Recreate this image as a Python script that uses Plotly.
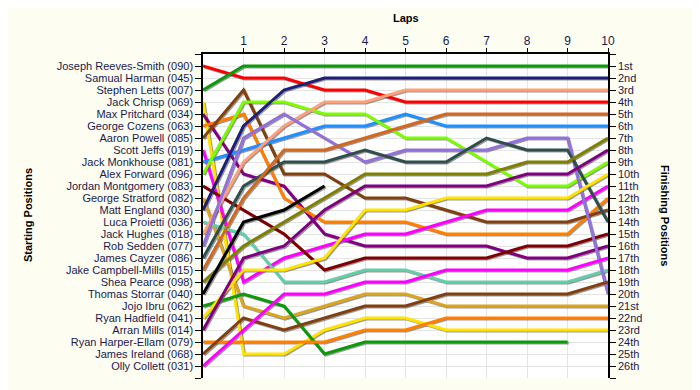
import plotly.graph_objects as go

laps = list(range(0, 11))

drivers = [
    "Joseph Reeves-Smith (090)", "Samual Harman (045)", "Stephen Letts (007)",
    "Jack Chrisp (069)", "Max Pritchard (034)", "George Cozens (063)",
    "Aaron Powell (085)", "Scott Jeffs (019)", "Jack Monkhouse (081)",
    "Alex Forward (096)", "Jordan Montgomery (083)", "George Stratford (082)",
    "Matt England (030)", "Luca Proietti (036)", "Jack Hughes (018)",
    "Rob Sedden (077)", "James Cayzer (086)", "Jake Campbell-Mills (015)",
    "Shea Pearce (098)", "Thomas Storrar (040)", "Jojo Ibru (062)",
    "Ryan Hadfield (041)", "Arran Mills (014)", "Ryan Harper-Ellam (079)",
    "James Ireland (068)", "Olly Collett (031)",
]

# position of each driver at the end of each lap (lap 0 = grid)
joseph_reeves_smith = [1, 2, 2, 3, 3, 4, 4, 4, 4, 4, 4]
samual_harman = [None] * 11
stephen_letts = [3, 1, 1, 1, 1, 1, 1, 1, 1, 1, 1]
jack_chrisp = [4, 25, 25, 23, 22, 22, 23, 23, 23, 23, 23]
max_pritchard = [5, 10, 11, 15, 16, 16, 16, 16, 17, 17, 16]
george_cozens = [6, 5, 12, 14, 14, 14, 15, 15, 15, 15, 12]
aaron_powell = [7, 3, 10, 10, 12, 12, 13, 14, 14, 14, 13]
scott_jeffs = [8, 19, 17, 16, 15, 15, 14, 13, 13, 13, 11]
jack_monkhouse = [9, 8, 7, 6, 6, 5, 6, 6, 6, 6, 6]
alex_forward = [10, 4, 4, 5, 5, 7, 7, 9, 11, 11, 9]
jordan_montgomery = [11, 13, 15, 18, 17, 17, 17, 17, 16, 16, 15]
george_stratford = [12, 21, 22, 21, 20, 20, 21, 21, 21, 21, 21]
matt_england = [13, 6, 3, 2, 2, 2, 2, 2, 2, 2, 2]
luca_proietti = [14, 15, 19, 19, 18, 18, 19, 19, 19, 19, 18]
jack_hughes = [15, 9, 6, 4, 4, 3, 3, 3, 3, 3, 3]
rob_sedden = [16, 7, 5, 7, 9, 8, 8, 8, 7, 7, 20]
james_cayzer = [17, 11, 9, 9, 8, 9, 9, 7, 8, 8, 14]
jake_campbell_mills = [18, 12, 8, 8, 7, 6, 5, 5, 5, 5, 5]
shea_pearce = [19, 16, 14, 12, 10, 10, 10, 10, 9, 9, 7]
thomas_storrar = [20, 14, 13, 11, None, None, None, None, None, None, None]
jojo_ibru = [21, 20, 21, 25, 24, 24, 24, 24, 24, 24, None]
ryan_hadfield = [22, 18, 18, 17, 13, 13, 12, 12, 12, 12, 10]
arran_mills = [23, 17, 16, 13, 11, 11, 11, 11, 10, 10, 8]
ryan_harper_ellam = [24, 24, 24, 24, 23, 23, 22, 22, 22, 22, 22]
james_ireland = [25, 22, 23, 22, 21, 21, 20, 20, 20, 20, 19]
olly_collett = [26, 23, 20, 20, 19, 19, 18, 18, 18, 18, 17]

positions = [
    joseph_reeves_smith, samual_harman, stephen_letts, jack_chrisp,
    max_pritchard, george_cozens, aaron_powell, scott_jeffs, jack_monkhouse,
    alex_forward, jordan_montgomery, george_stratford, matt_england,
    luca_proietti, jack_hughes, rob_sedden, james_cayzer, jake_campbell_mills,
    shea_pearce, thomas_storrar, jojo_ibru, ryan_hadfield, arran_mills,
    ryan_harper_ellam, james_ireland, olly_collett,
]

finish_labels = ["1st", "2nd", "3rd", "4th", "5th", "6th", "7th", "8th", "9th",
                 "10th", "11th", "12th", "13th", "14th", "15th", "16th", "17th",
                 "18th", "19th", "20th", "21st", "22nd", "23rd", "24th", "25th",
                 "26th"]

palette = ["#FF0000", "#000000", "#0A9A0A", "#FFE400", "#800080", "#FF8000",
           "#804010", "#FF00FF", "#1E90FF", "#7CFC00", "#800000", "#DAA520",
           "#1F1F78", "#66CDAA", "#FFA07A", "#9370DB", "#2F4F4F", "#D2691E",
           "#808000", "#000000", "#0A9A0A", "#FFE400", "#800080", "#FF8000",
           "#804010", "#FF00FF"]

TEXT = "#1a1a4a"
FONT = "Liberation Sans"

fig = go.Figure()

# shadows
for name, pos in zip(drivers, positions):
    if all(p is None for p in pos):
        continue
    fig.add_trace(go.Scatter(
        x=[l + 0.03 for l in laps],
        y=[None if p is None else p + 0.09 for p in pos],
        mode="lines", line=dict(color="rgba(70,70,70,0.55)", width=3),
        hoverinfo="skip", showlegend=False))

for name, pos, col in zip(drivers, positions, palette):
    fig.add_trace(go.Scatter(
        x=laps, y=pos, mode="lines", name=name,
        line=dict(color=col, width=3), showlegend=False))

# invisible trace for right axis
fig.add_trace(go.Scatter(x=[0], y=[1], yaxis="y2", mode="markers",
                         marker=dict(opacity=0), hoverinfo="skip",
                         showlegend=False))

ytick_vals = list(range(0, 28))
left_text = [""] + drivers + [""]
right_text = [""] + finish_labels + [""]

fig.update_layout(
    width=700, height=390,
    margin=dict(l=195, r=100, t=46, b=20),
    paper_bgcolor="#FDFDF2",
    plot_bgcolor="#FFFFFF",
    font=dict(family=FONT, size=11, color=TEXT),
    xaxis=dict(range=[0, 10], side="top", tickvals=list(range(1, 11)),
               showgrid=True, gridcolor="#E4E4E4", gridwidth=1,
               showline=True, linecolor="black", linewidth=1.5,
               ticks="outside", ticklen=4, tickcolor="black",
               ticklabelstandoff=-2,
               zeroline=False, tickfont=dict(size=12, color=TEXT)),
    yaxis=dict(range=[27, 0], tickvals=ytick_vals, ticktext=left_text,
               showgrid=True, gridcolor="#E4E4E4", gridwidth=1,
               showline=True, linecolor="black", linewidth=1.5,
               ticks="outside", ticklen=6, tickcolor="black",
               zeroline=False, tickfont=dict(size=11, color=TEXT)),
    yaxis2=dict(range=[27, 0], tickvals=ytick_vals, ticktext=right_text,
                overlaying="y", side="right", showgrid=False,
                showline=True, linecolor="black", linewidth=1.5,
                ticks="outside", ticklen=6, tickcolor="black",
                zeroline=False, tickfont=dict(size=11, color=TEXT)),
    annotations=[
        dict(text="<b>Laps</b>", xref="paper", yref="paper", x=0.5, y=1.111,
             xanchor="center", yanchor="middle",
             showarrow=False, font=dict(size=11, color="black", family=FONT)),
        dict(text="<b>Starting Positions</b>", xref="paper", yref="paper",
             x=-0.432, y=0.503, textangle=-90, xanchor="center",
             yanchor="middle", showarrow=False,
             font=dict(size=11, color="black", family=FONT)),
        dict(text="<b>Finishing Positions</b>", xref="paper", yref="paper",
             x=1.141, y=0.503, textangle=90, xanchor="center",
             yanchor="middle", showarrow=False,
             font=dict(size=11, color="black", family=FONT)),
    ],
)

fig.write_html("out.html")
